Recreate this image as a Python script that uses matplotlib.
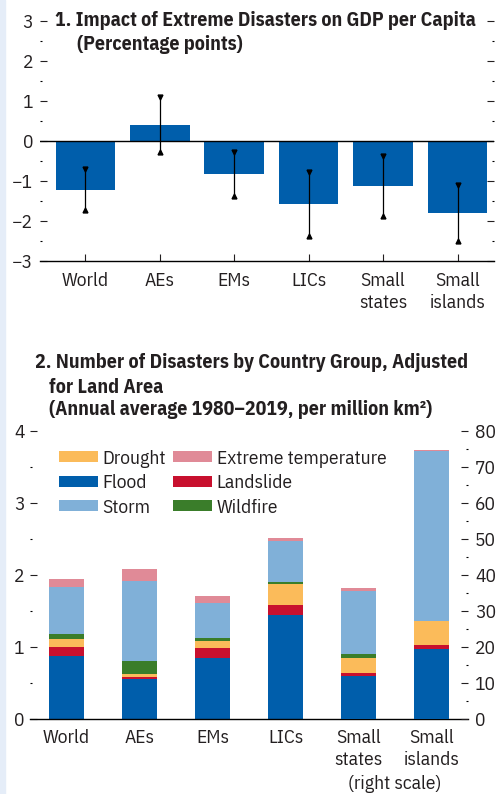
import matplotlib
matplotlib.use("Agg")
import matplotlib.pyplot as plt
import matplotlib.patches as mpatches
import numpy as np

plt.rcParams["font.family"] = ["IBM Plex Sans Condensed", "DejaVu Sans"]
plt.rcParams["font.size"] = 14
plt.rcParams["text.color"] = "#231f20"

# ── data: panel 1 ───────────────────────────────────────────────────────
groups1 = ["World", "AEs", "EMs", "LICs", "Small\nstates", "Small\nislands"]
impact = [-1.23, 0.41, -0.83, -1.58, -1.13, -1.81]
err_hi = [-0.70, 1.09, -0.28, -0.78, -0.37, -1.10]
err_lo = [-1.73, -0.28, -1.38, -2.38, -1.88, -2.50]

# ── data: panel 2 (first four on left scale, last two on right scale) ──
groups2 = ["World", "AEs", "EMs", "LICs", "Small\nstates", "Small\nislands"]
flood     = [0.88, 0.55, 0.85, 1.44, 12.0, 19.4]
landslide = [0.12, 0.03, 0.14, 0.14, 0.8, 1.2]
drought   = [0.11, 0.04, 0.09, 0.29, 4.1, 6.5]
wildfire  = [0.07, 0.19, 0.04, 0.03, 1.2, 0.2]
storm     = [0.65, 1.11, 0.49, 0.57, 17.5, 47.1]
ext_temp  = [0.11, 0.16, 0.10, 0.04, 0.8, 0.4]

BLUE = "#005eab"
COLORS = {
    "Flood": BLUE, "Landslide": "#c8102e", "Drought": "#fbbb5a",
    "Wildfire": "#3a7d2a", "Storm": "#80b0d8", "Extreme temperature": "#e08a97",
}
INK = "#231f20"
FS = 14      # ticks, legend
TFS = 14.3   # panel titles

fig = plt.figure(figsize=(4.97, 7.94), dpi=100)
fig.patches.append(mpatches.Rectangle((0, 0), 5/497, 1, transform=fig.transFigure,
                                      color="#e5edf8", zorder=0))

# ── Panel 1 ─────────────────────────────────────────────────────────────
ax1 = fig.add_axes([40/497, 1-261/794, 454/497, 240/794])
x1 = np.arange(len(groups1))
ax1.bar(x1, impact, width=0.8, color=BLUE, zorder=2)
ax1.vlines(x1, err_lo, err_hi, color="black", lw=0.9, zorder=3)
ax1.plot(x1, err_hi, "v", color="black", ms=3.5, zorder=4)
ax1.plot(x1, err_lo, "^", color="black", ms=3.5, zorder=4)
ax1.axhline(0, color="black", lw=1.0, zorder=3)
ax1.set_xlim(-0.61, 5.49)
ax1.set_ylim(-3, 3)
for s in ["top", "left", "right"]:
    ax1.spines[s].set_visible(False)
ax1.spines["bottom"].set_linewidth(1.0)
ax1.set_yticks(range(-3, 4))
ax1.set_yticks(np.arange(-2.5, 3, 1), minor=True)
ax1.tick_params(axis="y", which="major", direction="in", length=5, width=0.8,
                right=True, pad=5, colors=INK, labelsize=FS)
ax1.tick_params(axis="y", which="minor", direction="in", length=1.5, width=0.8,
                right=True)
ax1.set_xticks(x1)
ax1.set_xticklabels(groups1, linespacing=1.3)
ax1.tick_params(axis="x", direction="in", length=5, width=0.8, pad=8,
                colors=INK, labelsize=FS)
fig.text(55/497, 1-21/794, "1. Impact of Extreme Disasters on GDP per Capita",
         fontsize=TFS, fontweight="bold", va="center", ha="left")
fig.text(77/497, 1-45/794, "(Percentage points)",
         fontsize=TFS, fontweight="bold", va="center", ha="left")

# ── Panel 2 ─────────────────────────────────────────────────────────────
ax2 = fig.add_axes([30/497, 1-719/794, 438/497, 288/794])
ax2r = ax2.twinx()
x2 = np.arange(len(groups2))
series = [("Flood", flood), ("Landslide", landslide), ("Drought", drought),
          ("Wildfire", wildfire), ("Storm", storm), ("Extreme temperature", ext_temp)]
bottom = np.zeros(len(groups2))
handles = {}
for name, vals in series:
    v = np.array(vals)
    h = ax2.bar(x2[:4], v[:4], bottom=bottom[:4], width=0.48,
                color=COLORS[name], zorder=2)
    ax2r.bar(x2[4:], v[4:], bottom=bottom[4:], width=0.48,
             color=COLORS[name], zorder=2)
    handles[name] = h
    bottom += v

ax2.set_xlim(-0.5, 5.5)
ax2.set_ylim(0, 4)
ax2r.set_ylim(0, 80)
for a in (ax2, ax2r):
    for s in ["top", "left", "right"]:
        a.spines[s].set_visible(False)
ax2.spines["bottom"].set_linewidth(1.0)
ax2r.spines["bottom"].set_visible(False)
ax2.set_yticks(range(0, 5))
ax2.set_yticks(np.arange(0.5, 4, 1), minor=True)
ax2.tick_params(axis="y", which="major", direction="in", length=5, width=0.8,
                pad=4, colors=INK, labelsize=FS)
ax2.tick_params(axis="y", which="minor", direction="in", length=1.5, width=0.8)
ax2r.set_yticks(range(0, 81, 10))
ax2r.set_yticks(np.arange(5, 80, 10), minor=True)
ax2r.tick_params(axis="y", which="major", direction="in", length=5, width=0.8,
                 pad=5, colors=INK, labelsize=FS)
ax2r.tick_params(axis="y", which="minor", direction="in", length=1.5, width=0.8)
ax2.set_xticks(x2)
ax2.set_xticklabels(groups2, linespacing=1.3)
ax2.tick_params(axis="x", length=0, pad=7, colors=INK, labelsize=FS)
ax2.text(4.5, -(784-719)/288, "(right scale)", transform=ax2.get_xaxis_transform(),
         ha="center", va="center", fontsize=FS, color=INK)

order = ["Drought", "Flood", "Storm", "Extreme temperature", "Landslide", "Wildfire"]
ax2.legend([handles[n] for n in order], order, ncol=2, frameon=False,
           loc="upper left", bbox_to_anchor=(0.066, 0.935), borderpad=0,
           borderaxespad=0, handlelength=2.0, handleheight=0.5,
           handletextpad=0.25, columnspacing=0.35, labelspacing=0.33,
           fontsize=FS)

fig.text(35/497, 1-362/794, "2. Number of Disasters by Country Group, Adjusted",
         fontsize=TFS, fontweight="bold", va="center", ha="left")
fig.text(49/497, 1-387/794, "for Land Area",
         fontsize=TFS, fontweight="bold", va="center", ha="left")
fig.text(49/497, 1-410/794, "(Annual average 1980–2019, per million km²)",
         fontsize=TFS, fontweight="bold", va="center", ha="left")

fig.savefig("out.png", dpi=100)
